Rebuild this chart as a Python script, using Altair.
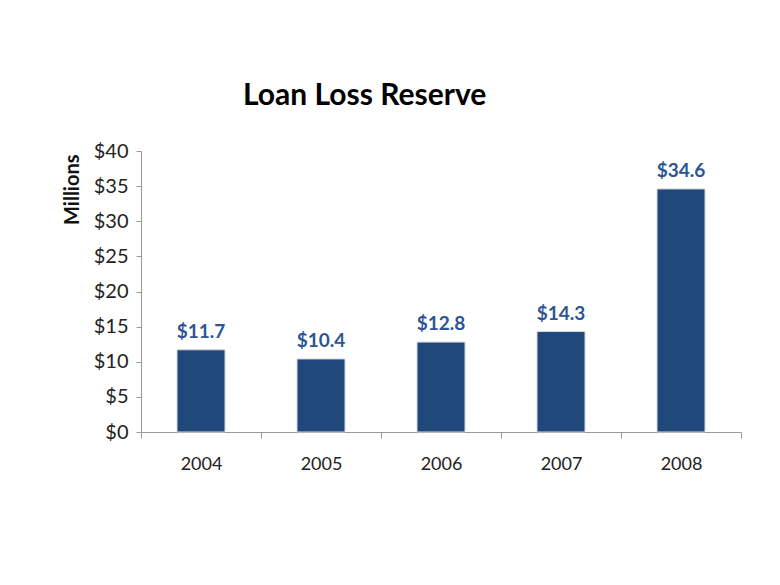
import altair as alt
import pandas as pd

years = ["2004", "2005", "2006", "2007", "2008"]
reserve = [11.7, 10.4, 12.8, 14.3, 34.6]
labels = ["$11.7", "$10.4", "$12.8", "$14.3", "$34.6"]
y_ticks = [0, 5, 10, 15, 20, 25, 30, 35, 40]

df = pd.DataFrame({"year": years, "value": reserve, "label": labels})

FONT = "Lato"

x = alt.X("year:N", sort=years, title=None,
          scale=alt.Scale(paddingInner=0, paddingOuter=0),
          axis=alt.Axis(labelAngle=0, tickBand="extent", labelFontSize=18,
                        labelFont=FONT, labelColor="#222222", labelPadding=17,
                        tickSize=6, tickColor="#999999", domainColor="#999999",
                        grid=False))
y = alt.Y("value:Q", title="Millions",
          scale=alt.Scale(domain=[0, 40], nice=False),
          axis=alt.Axis(values=y_ticks,
                        labelExpr="'$' + datum.value", labelFontSize=20,
                        labelOverlap=False, labelFlush=False,
                        labelFont=FONT, labelColor="#222222", labelPadding=8,
                        tickSize=5, tickColor="#999999", domainColor="#999999",
                        grid=False, titleFont=FONT, titleFontSize=20,
                        titleFontWeight="bold", titleColor="#111111",
                        titleAngle=270, titleX=-69, titleY=3,
                        titleAlign="right", titleBaseline="middle"))

bars = alt.Chart(df).mark_bar(color="#1F487C", stroke="#d8d8d8", strokeWidth=1,
                              width=alt.RelativeBandSize(0.4)).encode(x=x, y=y)
text = alt.Chart(df).mark_text(dy=-8, baseline="bottom", font=FONT, fontSize=19,
                               fontWeight="bold", color="#2C5592").encode(
    x=x, y=y, text="label:N")

chart = alt.layer(bars, text).properties(
    width=600, height=281,
    title=alt.TitleParams("Loan Loss Reserve", anchor="start", frame="group", dx=102,
                          offset=30, font=FONT, fontSize=30, fontWeight="bold",
                          color="#000000"),
    autosize=alt.AutoSizeParams(type="none"),
    padding={"left": 133, "top": 143, "right": 30, "bottom": 130},
).configure_view(stroke=None)

chart.save("out.html", embed_options={"renderer": "svg", "actions": False})
